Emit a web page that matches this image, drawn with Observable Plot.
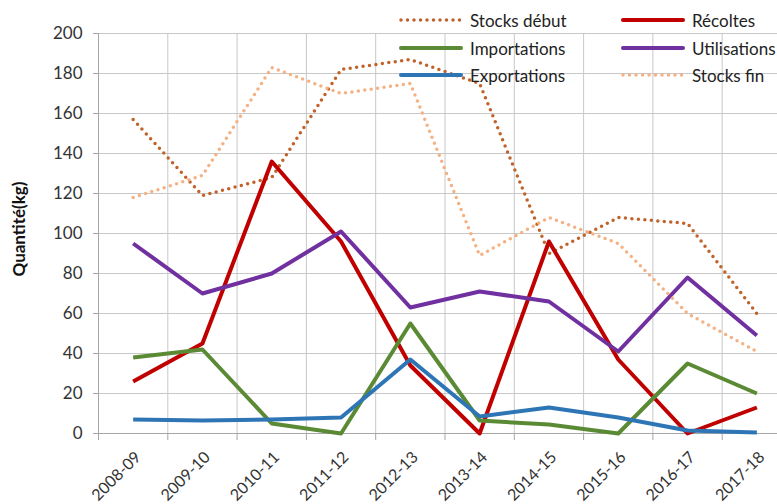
<!DOCTYPE html>
<html>
<head>
<meta charset="utf-8">
<script src="https://cdn.jsdelivr.net/npm/d3@7"></script>
<script src="https://cdn.jsdelivr.net/npm/@observablehq/plot@0.6"></script>
<style>
  body { margin: 0; background: #fff; }
  #wrap { position: relative; width: 777px; height: 504px; overflow: hidden; font-family: Lato, "Open Sans", sans-serif; }
  #legend { position: absolute; left: 0; top: 0; width: 777px; height: 100px; pointer-events: none; }
  .item { position: absolute; display: flex; align-items: center; font-size: 17px; color: #222; white-space: nowrap; }
  .item svg { margin-right: 6px; }
  #ylabel { position: absolute; left: 18px; top: 229px; transform: translate(-50%, -50%) rotate(-90deg); font-weight: bold; font-size: 17px; color: #111; white-space: nowrap; }
</style>
</head>
<body>
<div id="wrap"><div id="legend"></div><div id="ylabel"></div></div>
<script>
const seasons = ["2008-09","2009-10","2010-11","2011-12","2012-13","2013-14","2014-15","2015-16","2016-17","2017-18"];
const stocksDebut   = [157, 119, 128, 182, 187, 175, 90, 108, 105, 60];
const recoltes      = [26, 45, 136, 96, 34, 0, 96, 37, 0, 13];
const importations  = [38, 42, 5, 0, 55, 6.5, 4.5, 0, 35, 20];
const utilisations  = [95, 70, 80, 101, 63, 71, 66, 41, 78, 49];
const exportations  = [7, 6.5, 7, 8, 37, 8.5, 13, 8, 1.5, 0.5];
const stocksFin     = [118, 129, 183, 170, 175, 89, 108, 95, 60, 41];
const yTicks = [0, 20, 40, 60, 80, 100, 120, 140, 160, 180, 200];
const yLabel = "Quantité(kg)";

const series = [
  {name: "Stocks début", values: stocksDebut, color: "#c0622a", dotted: true},
  {name: "Récoltes", values: recoltes, color: "#c00000", dotted: false},
  {name: "Importations", values: importations, color: "#5b8a35", dotted: false},
  {name: "Utilisations", values: utilisations, color: "#7030a0", dotted: false},
  {name: "Exportations", values: exportations, color: "#2e75b6", dotted: false},
  {name: "Stocks fin", values: stocksFin, color: "#f4b183", dotted: true}
];

const idx = seasons.map((s, i) => i);
const bounds = d3.range(-0.5, seasons.length, 1);

const marks = [
  Plot.ruleY(yTicks, {y: d => d, x1: -0.5, x2: 9.6, stroke: "#c8c8c8", strokeWidth: 1}),
  Plot.ruleX(bounds, {x: d => d, y1: 0, y2: 200, stroke: "#c8c8c8", strokeWidth: 1}),
  Plot.ruleY([0], {x1: -0.5, x2: 9.6, stroke: "#a6a6a6", strokeWidth: 1}),
  Plot.ruleX([-0.5], {y1: 0, y2: 200, stroke: "#a6a6a6", strokeWidth: 1}),
  Plot.axisY({ticks: yTicks, tickSize: 5, tickPadding: 11, fontSize: 17, stroke: "#a6a6a6", color: "#333", label: null}),
  Plot.axisX({ticks: bounds, tickSize: 7, tickFormat: () => "", stroke: "#a6a6a6", label: null}),
  Plot.axisX({ticks: idx, tickSize: 0, tickPadding: 21, dx: 5, tickRotate: -45, tickFormat: i => seasons[i], fontSize: 16, color: "#333", label: null})
];

for (const s of series) {
  marks.push(Plot.line(idx, {
    x: i => i, y: i => s.values[i],
    stroke: s.color,
    strokeWidth: s.dotted ? 3.5 : 4,
    strokeDasharray: s.dotted ? "0 6.5" : null,
    strokeLinecap: s.dotted ? "round" : "butt",
    strokeLinejoin: "round",
    curve: "linear"
  }));
}

const chart = Plot.plot({
  width: 777,
  height: 504,
  marginLeft: 98,
  marginRight: -14,
  marginTop: 33,
  marginBottom: 71,
  style: {fontFamily: "Lato, 'Open Sans', sans-serif", background: "#fff"},
  x: {type: "linear", domain: [-0.5, 9.5], axis: null},
  y: {domain: [0, 200], axis: null},
  marks
});
document.getElementById("wrap").prepend(chart);
document.getElementById("ylabel").textContent = yLabel;

// Legend (transparent, overlaying the plot)
const legend = document.getElementById("legend");
const legendPos = [
  {left: 398, top: 20}, {left: 620, top: 20},
  {left: 398, top: 48}, {left: 620, top: 48},
  {left: 398, top: 75}, {left: 620, top: 75}
];
series.forEach((s, k) => {
  const p = legendPos[k];
  const div = document.createElement("div");
  div.className = "item";
  div.style.left = p.left + "px";
  div.style.top = (p.top - 11) + "px";
  div.style.height = "22px";
  const dash = s.dotted ? 'stroke-dasharray="0 6.5" stroke-linecap="round" stroke-width="3.5"' : 'stroke-width="4" stroke-linecap="round"';
  div.innerHTML = `<svg width="66" height="10"><line x1="3" y1="5" x2="63" y2="5" stroke="${s.color}" ${dash}/></svg><span>${s.name}</span>`;
  legend.appendChild(div);
});
</script>
</body>
</html>
